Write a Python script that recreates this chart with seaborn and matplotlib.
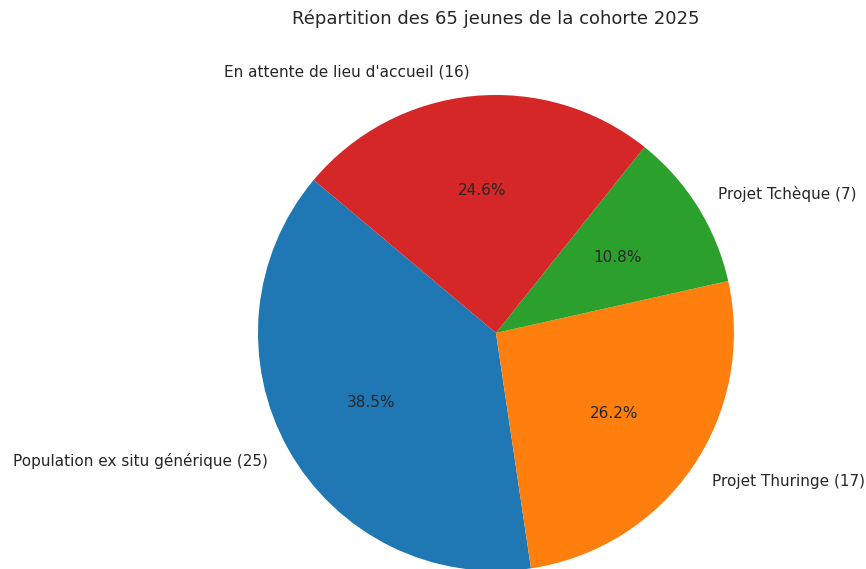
import matplotlib
matplotlib.use("Agg")
import matplotlib.pyplot as plt
import seaborn as sns

# Data
categories = [
    "Population ex situ générique",
    "Projet Thuringe",
    "Projet Tchèque",
    "En attente de lieu d'accueil",
]
counts = [25, 17, 7, 16]
title = "Répartition des 65 jeunes de la cohorte 2025"

# Set seaborn style
sns.set_theme(style="white")
plt.rcParams['font.family'] = ['DejaVu Sans']

def main():
    labels = [f"{c} ({n})" for c, n in zip(categories, counts)]
    colors = sns.color_palette("tab10", len(counts))

    fig = plt.figure(figsize=(8.66, 5.69), dpi=100)
    # Square axes centred on the pie, running a bit past the bottom edge
    ax = fig.add_axes([0.2292, -0.108, 0.687, 1.0457])

    ax.pie(counts, labels=labels, colors=colors, autopct='%1.1f%%',
           startangle=140, wedgeprops={'linewidth': 0},
           textprops={'fontsize': 11, 'color': '0.15'})
    ax.set_xlim(-1.25, 1.25)
    ax.set_ylim(-1.25, 1.25)
    ax.set_aspect('equal')
    ax.set_title(title, fontsize=13, color='0.15', pad=8)

    fig.savefig('out.png', dpi=100)
    plt.close(fig)

if __name__ == "__main__":
    main()
